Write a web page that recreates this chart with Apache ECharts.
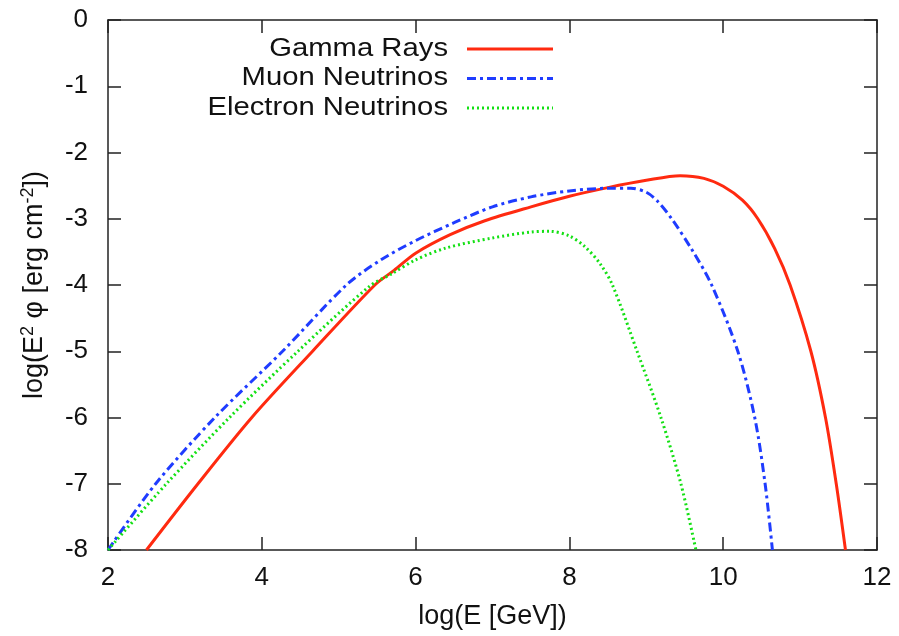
<!DOCTYPE html>
<html>
<head>
<meta charset="utf-8">
<script src="https://cdn.jsdelivr.net/npm/echarts@6/dist/echarts.min.js"></script>
<style>
    html, body { margin: 0; padding: 0; background: #fff; }
    #chart { width: 899px; height: 636px; }
</style>
</head>
<body>
<div id="chart"></div>
<script>
// spectra: [log E, log(E^2 phi)]
var gammaRays = [
    [2.5, -8], [3.17, -7], [3.87, -6], [4.66, -5], [5.47, -4], [5.72, -3.78],
    [6.0, -3.52], [6.45, -3.24], [6.9, -3.03], [7.5, -2.82], [8.0, -2.66],
    [8.5, -2.53], [9.0, -2.42], [9.44, -2.35], [9.75, -2.39], [10.0, -2.51],
    [10.25, -2.72], [10.45, -3.0], [10.67, -3.45], [10.87, -4.0], [11.14, -5.0],
    [11.33, -6.0], [11.47, -7.0], [11.59, -8]
];
var muonNeutrinos = [
    [2.0, -8], [2.62, -7], [3.39, -6], [4.27, -5], [5.1, -4], [5.55, -3.62],
    [6.0, -3.33], [6.5, -3.06], [7.0, -2.82], [7.5, -2.67], [8.0, -2.58],
    [8.5, -2.54], [8.8, -2.54], [9.0, -2.6], [9.15, -2.74], [9.33, -3.0],
    [9.6, -3.48], [9.85, -4.0], [10.19, -5.0], [10.41, -6.0], [10.545, -7.0],
    [10.64, -8]
];
var electronNeutrinos = [
    [2.0, -8], [2.76, -7], [3.58, -6], [4.47, -5], [5.4, -4.02], [5.69, -3.83],
    [6.0, -3.62], [6.4, -3.44], [7.0, -3.29], [7.5, -3.2], [7.75, -3.19],
    [8.0, -3.26], [8.2, -3.42], [8.4, -3.68], [8.56, -4.0], [8.88, -5.0],
    [9.19, -6.0], [9.45, -7.0], [9.645, -8]
];
var seriesNames = ['Gamma Rays', 'Muon Neutrinos', 'Electron Neutrinos'];
var seriesColors = ['#ff2a10', '#1f3cff', '#14e014'];
var seriesDash = ['solid', [9, 4, 3, 4], [2, 3]];

var font = '"Liberation Sans", Arial, Helvetica, sans-serif';
var chart = echarts.init(document.getElementById('chart'));

function boxAxis(pos, show) {
    return {
        type: 'value',
        position: pos,
        axisLine: { show: true, onZero: false, lineStyle: { color: '#222', width: 1.5 } },
        axisTick: { show: true, inside: true, length: 13, lineStyle: { color: '#222', width: 1.5 } },
        splitLine: { show: false },
        axisLabel: { show: show }
    };
}

var xMain = boxAxis('bottom', true);
xMain.min = 2; xMain.max = 12; xMain.interval = 2;
xMain.axisLabel = { fontFamily: font, fontSize: 26, color: '#111', margin: 15 };
xMain.name = 'log(E [GeV])';
xMain.nameLocation = 'middle';
xMain.nameGap = 53;
xMain.nameTextStyle = { fontFamily: font, fontSize: 27, color: '#111' };

var xTop = boxAxis('top', false);
xTop.min = 2; xTop.max = 12; xTop.interval = 2;

var yMain = boxAxis('left', true);
yMain.min = -8; yMain.max = 0; yMain.interval = 1;
yMain.axisLabel = { fontFamily: font, fontSize: 26, color: '#111', margin: 20 };
yMain.name = 'log(E{sup|2} \u03c6 [erg cm{sup|-2}])';
yMain.nameLocation = 'middle';
yMain.nameGap = 58;
yMain.nameTextStyle = {
    fontFamily: font, fontSize: 27, color: '#111',
    rich: { sup: { fontFamily: font, fontSize: 18, color: '#111', verticalAlign: 'top', padding: [0, 0, 13, 0] } }
};

var yRight = boxAxis('right', false);
yRight.min = -8; yRight.max = 0; yRight.interval = 1;

var seriesData = [gammaRays, muonNeutrinos, electronNeutrinos];
var series = [];
var graphics = [];
for (var i = 0; i < seriesData.length; i++) {
    series.push({
        name: seriesNames[i],
        type: 'line',
        data: seriesData[i],
        smooth: 0.3,
        showSymbol: false,
        clip: true,
        lineStyle: { color: seriesColors[i], width: 3, type: seriesDash[i] }
    });
    var rowY = 49 + i * 29.5;
    graphics.push({
        type: 'text',
        x: 448, y: rowY,
        scaleX: 1.17,
        style: {
            text: seriesNames[i], x: 0, y: 0,
            fontFamily: font, fontSize: 25, fill: '#111',
            align: 'right', verticalAlign: 'middle'
        }
    });
    graphics.push({
        type: 'line',
        shape: { x1: 467, y1: rowY, x2: 553, y2: rowY },
        style: { stroke: seriesColors[i], lineWidth: 3, lineDash: seriesDash[i] === 'solid' ? null : seriesDash[i] }
    });
}

chart.setOption({
    animation: false,
    backgroundColor: '#fff',
    grid: { left: 108, right: 22, top: 20, bottom: 86 },
    xAxis: [xMain, xTop],
    yAxis: [yMain, yRight],
    series: series,
    graphic: graphics
});
</script>
</body>
</html>
